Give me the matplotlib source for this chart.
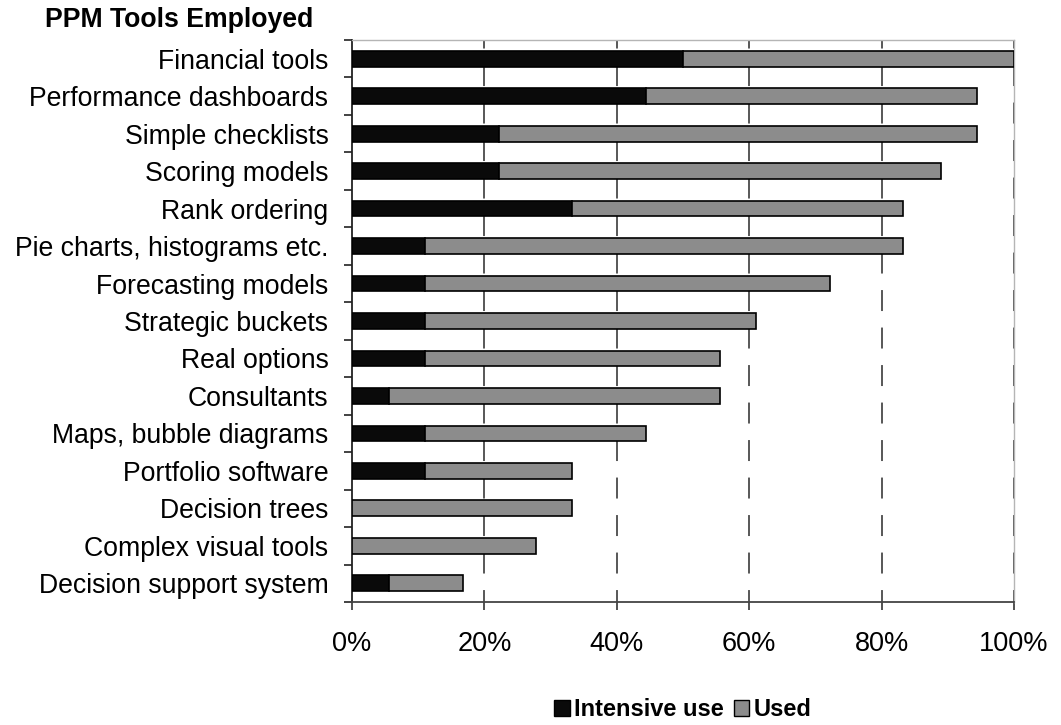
import matplotlib
matplotlib.use("Agg")
import matplotlib.pyplot as plt
import numpy as np
from matplotlib.patches import Patch

plt.rcParams["font.family"] = ["Liberation Sans", "DejaVu Sans"]
plt.rcParams["lines.scale_dashes"] = False

categories = [
    "Financial tools",
    "Performance dashboards",
    "Simple checklists",
    "Scoring models",
    "Rank ordering",
    "Pie charts, histograms etc.",
    "Forecasting models",
    "Strategic buckets",
    "Real options",
    "Consultants",
    "Maps, bubble diagrams",
    "Portfolio software",
    "Decision trees",
    "Complex visual tools",
    "Decision support system",
]
# share of respondents (%)
intensive = [50.0, 44.4, 22.2, 22.2, 33.3, 11.1, 11.1, 11.1, 11.1, 5.6, 11.1, 11.1, 0.0, 0.0, 5.6]
total_used = [100.0, 94.4, 94.4, 88.9, 83.3, 83.3, 72.2, 61.1, 55.6, 55.6, 44.4, 33.3, 33.3, 27.8, 16.7]
used = [t - i for t, i in zip(total_used, intensive)]
x_ticks = [0, 20, 40, 60, 80, 100]

fig = plt.figure(figsize=(10.61, 7.25), dpi=100)
ax = fig.add_axes([352 / 1061, 1 - 602 / 725, 662 / 1061, 562 / 725])

y = np.arange(len(categories))
ax.barh(y, intensive, height=0.42, color="#0a0a0a", edgecolor="#000000", linewidth=1.2, zorder=3)
ax.barh(y, used, left=intensive, height=0.42, color="#8c8c8c", edgecolor="#000000", linewidth=1.2, zorder=3)

ax.set_xlim(0, 100)
ax.set_ylim(len(categories) - 0.5, -0.5)

# dashed vertical gridlines (drawn from the bottom upwards)
for xv in x_ticks[1:]:
    ax.plot([xv, xv], [len(categories) - 0.5, -0.5], color="#2a2a2a", linewidth=1.1,
            linestyle=(6.5, (15.1, 11.9)), zorder=1, clip_on=False)

for side in ["top", "right"]:
    ax.spines[side].set_color("#b5b5b5")
    ax.spines[side].set_linewidth(1.0)
ax.spines["left"].set_color("#222222")
ax.spines["bottom"].set_color("#444444")
ax.spines["left"].set_linewidth(1.3)
ax.spines["bottom"].set_linewidth(1.3)

ax.set_xticks(x_ticks)
ax.set_xticklabels([f"{v}%" for v in x_ticks], fontsize=19.5)
ax.tick_params(axis="x", direction="out", length=6, width=1.2, color="#333333", pad=15)

ax.set_yticks(np.arange(-0.5, len(categories), 1.0))
ax.set_yticklabels([])
ax.set_yticks(y, minor=True)
ax.set_yticklabels(categories, minor=True, fontsize=19.2)
ax.tick_params(axis="y", which="major", direction="out", length=6, width=1.2, color="#222222")
ax.tick_params(axis="y", which="minor", length=0, pad=17)

fig.text(45 / 1061, 1 - 7 / 725, "PPM Tools Employed", fontsize=19.2, fontweight="bold",
         ha="left", va="top")

handles = [
    Patch(facecolor="#0a0a0a", edgecolor="#000000", label="Intensive use"),
    Patch(facecolor="#8c8c8c", edgecolor="#000000", label="Used"),
]
fig.legend(handles=handles, loc="center", bbox_to_anchor=(683 / 1061, 1 - 710 / 725), ncol=2,
           frameon=False, prop={"size": 17, "weight": "bold"}, handlelength=0.65,
           handleheight=0.65, handletextpad=0.2, columnspacing=0.4, borderpad=0)

fig.savefig("out.png", dpi=100)
